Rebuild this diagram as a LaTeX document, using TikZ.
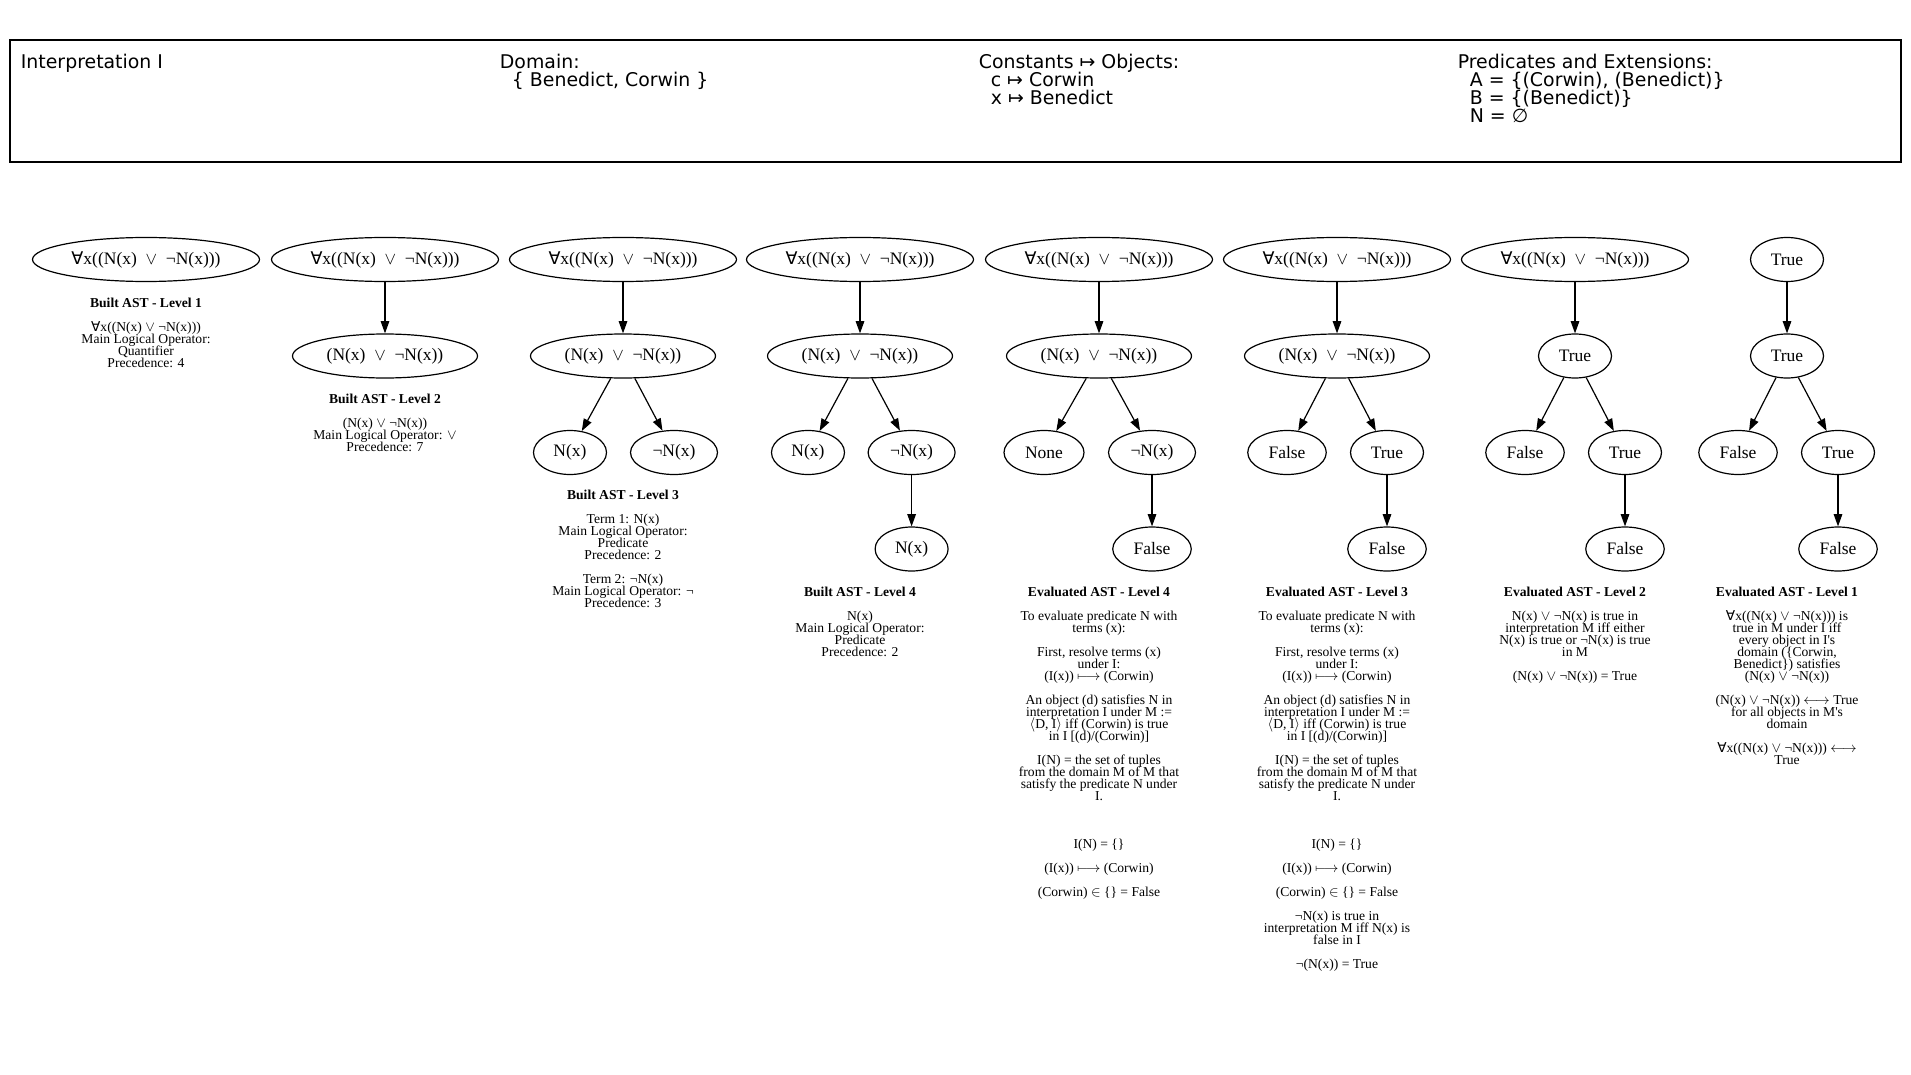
\documentclass[tikz,border=0pt]{standalone}
\usepackage{fontspec}
\setmainfont{Liberation Serif}
\newfontfamily\hdrfont{DejaVu Sans}
\newfontfamily\symfont{DejaVu Sans}
\usepackage{tikz}
\usetikzlibrary{arrows.meta,shapes.geometric}

\newcommand{\allq}{{\symfont ∀}}
\newcommand{\disj}{$\vee$}
\newcommand{\evalpred}{To evaluate predicate N with\\terms (x):\\[12pt]%
First, resolve terms (x)\\under I:\\(I(x)) $\longmapsto$ (Corwin)\\[12pt]%
An object (d) satisfies N in\\interpretation I under M :=\\$\langle$D, I$\rangle$ iff (Corwin) is true\\in I [(d)/(Corwin)]\\[12pt]%
I(N) = the set of tuples\\from the domain M of M that\\satisfy the predicate N under\\I.\\[36pt]%
I(N) = \{\}\\[12pt](I(x)) $\longmapsto$ (Corwin)\\[12pt](Corwin) $\in$ \{\} = False}

\tikzset{
	>={Triangle[length=12.2pt,width=8.5pt]},
	ast/.style={draw, ellipse, line width=1.2pt, inner sep=0pt,
		minimum height=44pt, minimum width=#1,
		font=\fontsize{17.5}{20}\selectfont},
	ast/.default=73pt,
	info/.style={anchor=north, align=center, inner sep=0pt,
		font=\fontsize{13.6}{12}\selectfont},
	hdr/.style={anchor=north west, align=left, inner sep=0pt,
		font=\hdrfont\fontsize{18.9}{18.3}\selectfont},
	link/.style={->, line width=1.2pt}
}
\lineskiplimit=-20pt

\begin{document}
\begin{tikzpicture}[x=1pt,y=-1pt]
	\useasboundingbox (0,0) rectangle (1911,1075);
	
	% interpretation
	\draw[line width=1.8pt] (10,40) rectangle (1901,162);
	\node[hdr] (interp) at (20.7,53.5) {Interpretation I};
	\node[hdr] (domain) at (499.7,53.5) {Domain:\\\ \ \{ Benedict, Corwin \}};
	\node[hdr] (consts) at (978.6,53.5) {Constants ↦ Objects:\\\ \ c ↦ Corwin\\\ \ x ↦ Benedict};
	\node[hdr] (preds) at (1457.6,53.5) {Predicates and Extensions:\\\ \ A = \{(Corwin), (Benedict)\}\\\ \ B = \{(Benedict)\}\\\ \ N = ∅};
	
	% built ASTs
	\node[ast=227pt] (a1) at (146,259.5) {\allq x((N(x)\ \ \disj\ \ ¬N(x)))};
	
	\node[ast=227pt] (b1) at (385,259.5) {\allq x((N(x)\ \ \disj\ \ ¬N(x)))};
	\node[ast=185pt] (b2) at (385,356) {(N(x)\ \ \disj\ \ ¬N(x))};
	
	\node[ast=227pt] (c1) at (623,259.5) {\allq x((N(x)\ \ \disj\ \ ¬N(x)))};
	\node[ast=185pt] (c2) at (623,356) {(N(x)\ \ \disj\ \ ¬N(x))};
	\node[ast] (c3) at (570,452.5) {N(x)};
	\node[ast=87pt] (c4) at (674,452.5) {¬N(x)};
	
	\node[ast=227pt] (d1) at (860,259.5) {\allq x((N(x)\ \ \disj\ \ ¬N(x)))};
	\node[ast=185pt] (d2) at (860,356) {(N(x)\ \ \disj\ \ ¬N(x))};
	\node[ast] (d3) at (808,452.5) {N(x)};
	\node[ast=87pt] (d4) at (911.6,452.5) {¬N(x)};
	\node[ast] (d5) at (911.6,549) {N(x)};
	
	% evaluated ASTs
	\node[ast=227pt] (e1) at (1099,259.5) {\allq x((N(x)\ \ \disj\ \ ¬N(x)))};
	\node[ast=185pt] (e2) at (1099,356) {(N(x)\ \ \disj\ \ ¬N(x))};
	\node[ast=80pt] (e3) at (1044,452.5) {None};
	\node[ast=87pt] (e4) at (1152,452.5) {¬N(x)};
	\node[ast=78.5pt] (e5) at (1152,549) {False};
	
	\node[ast=227pt] (f1) at (1337,259.5) {\allq x((N(x)\ \ \disj\ \ ¬N(x)))};
	\node[ast=185pt] (f2) at (1337,356) {(N(x)\ \ \disj\ \ ¬N(x))};
	\node[ast=78.5pt] (f3) at (1287,452.5) {False};
	\node[ast] (f4) at (1387,452.5) {True};
	\node[ast=78.5pt] (f5) at (1387,549) {False};
	
	\node[ast=227pt] (g1) at (1575,259.5) {\allq x((N(x)\ \ \disj\ \ ¬N(x)))};
	\node[ast] (g2) at (1575,356) {True};
	\node[ast=78.5pt] (g3) at (1525,452.5) {False};
	\node[ast] (g4) at (1625,452.5) {True};
	\node[ast=78.5pt] (g5) at (1625,549) {False};
	
	\node[ast] (h1) at (1787,259.5) {True};
	\node[ast] (h2) at (1787,356) {True};
	\node[ast=78.5pt] (h3) at (1738,452.5) {False};
	\node[ast] (h4) at (1838,452.5) {True};
	\node[ast=78.5pt] (h5) at (1838,549) {False};
	
	\foreach \p/\q in {b1/b2, c1/c2, c2/c3, c2/c4, d1/d2, d2/d3, d2/d4, d4/d5,
		e1/e2, e2/e3, e2/e4, e4/e5, f1/f2, f2/f3, f2/f4, f4/f5,
		g1/g2, g2/g3, g2/g4, g4/g5, h1/h2, h2/h3, h2/h4, h4/h5}
		\draw[link] (\p) -- (\q);
	
	% captions
	\node[info] (t1) at (146,297.5) {\bfseries Built AST - Level 1\\[12pt]%
		\allq x((N(x) \disj\ ¬N(x)))\\Main Logical Operator:\\Quantifier\\Precedence: 4};
	\node[info] (t2) at (385,393.8) {\bfseries Built AST - Level 2\\[12pt]%
		(N(x) \disj\ ¬N(x))\\Main Logical Operator: \disj\\Precedence: 7};
	\node[info] (t3) at (623,490) {\bfseries Built AST - Level 3\\[12pt]%
		Term 1: N(x)\\Main Logical Operator:\\Predicate\\Precedence: 2\\[12pt]%
		Term 2: ¬N(x)\\Main Logical Operator: ¬\\Precedence: 3};
	\node[info] (t4) at (860,586.4) {\bfseries Built AST - Level 4\\[12pt]%
		N(x)\\Main Logical Operator:\\Predicate\\Precedence: 2};
	\node[info] (t5) at (1099,586.4) {\bfseries Evaluated AST - Level 4\\[12pt]\evalpred};
	\node[info] (t6) at (1337,586.4) {\bfseries Evaluated AST - Level 3\\[12pt]\evalpred\\[12pt]%
		¬N(x) is true in\\interpretation M iff N(x) is\\false in I\\[12pt]¬(N(x)) = True};
	\node[info] (t7) at (1575,586.4) {\bfseries Evaluated AST - Level 2\\[12pt]%
		N(x) \disj\ ¬N(x) is true in\\interpretation M iff either\\N(x) is true or ¬N(x) is true\\in M\\[12pt]%
		(N(x) \disj\ ¬N(x)) = True};
	\node[info] (t8) at (1787,586.4) {\bfseries Evaluated AST - Level 1\\[12pt]%
		\allq x((N(x) \disj\ ¬N(x))) is\\true in M under I iff\\every object in I\textquotesingle s\\domain (\{Corwin,\\Benedict\}) satisfies\\(N(x) \disj\ ¬N(x))\\[12pt]%
		(N(x) \disj\ ¬N(x)) $\longleftrightarrow$ True\\for all objects in M\textquotesingle s\\domain\\[12pt]%
		\allq x((N(x) \disj\ ¬N(x))) $\longleftrightarrow$\\True};
\end{tikzpicture}
\end{document}
